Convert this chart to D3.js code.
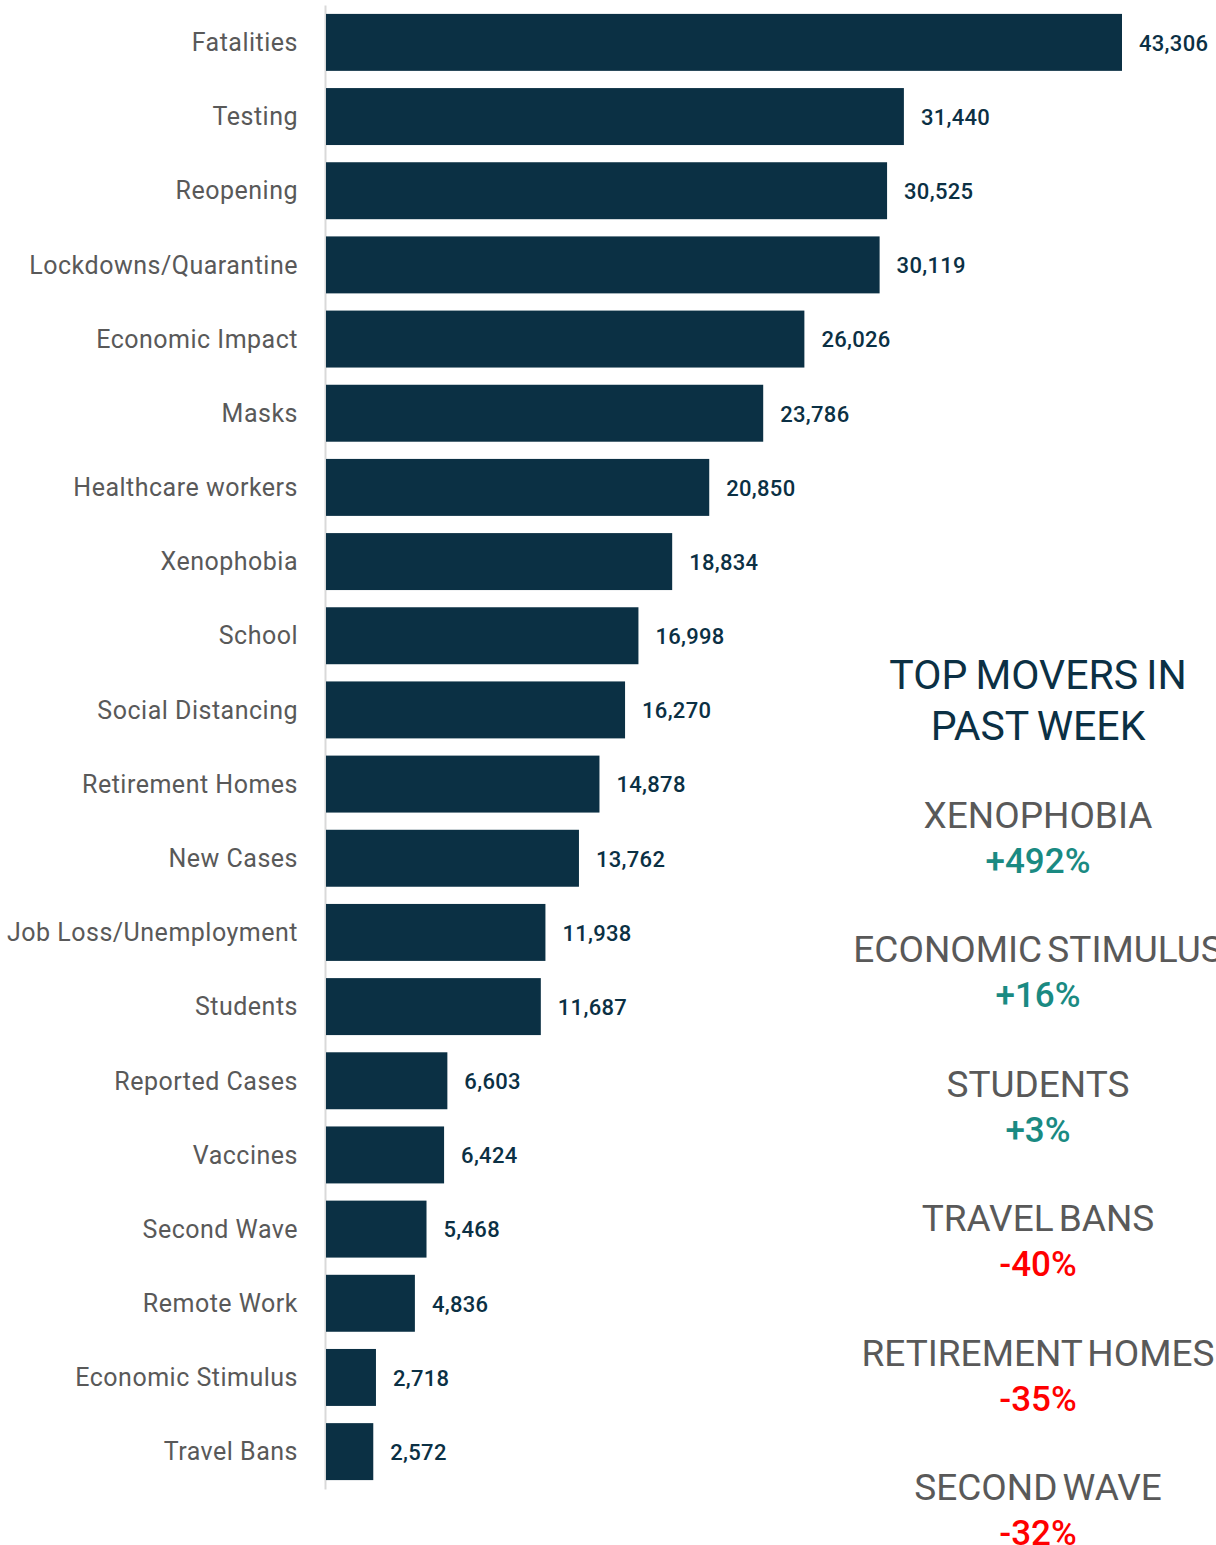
<!DOCTYPE html>
<meta charset="utf-8">
<style>
  body { margin: 0; background: #fff; }
  #chart text { font-family: Roboto, "DejaVu Sans Condensed", sans-serif; }
  .tick text { fill: #595959; font-size: 25px; letter-spacing: 0.5px; }
  .domain { stroke: #d9d9d9; stroke-width: 2; }
  .value { fill: #0b3044; font-size: 22px; font-weight: 500; letter-spacing: 0.3px; }
</style>
<body>
  <div id="chart"></div>
  <script src="https://d3js.org/d3.v7.min.js"></script>
  <script>
    // topics and mention counts
    const categories = ["Fatalities", "Testing", "Reopening", "Lockdowns/Quarantine", "Economic Impact",
      "Masks", "Healthcare workers", "Xenophobia", "School", "Social Distancing", "Retirement Homes",
      "New Cases", "Job Loss/Unemployment", "Students", "Reported Cases", "Vaccines", "Second Wave",
      "Remote Work", "Economic Stimulus", "Travel Bans"];
    const counts = [43306, 31440, 30525, 30119, 26026, 23786, 20850, 18834, 16998, 16270, 14878,
      13762, 11938, 11687, 6603, 6424, 5468, 4836, 2718, 2572];

    // top movers panel
    const titleLines = ["TOP MOVERS IN", "PAST WEEK"];
    const movers = ["XENOPHOBIA", "ECONOMIC STIMULUS", "STUDENTS", "TRAVEL BANS", "RETIREMENT HOMES", "SECOND WAVE"];
    const moverChange = ["+492%", "+16%", "+3%", "-40%", "-35%", "-32%"];

    const width = 1216, height = 1545;

    const svg = d3.select("#chart")
      .append("svg")
      .attr("width", width)
      .attr("height", height);

    const rows = categories.map((c, i) => ({ name: c, value: counts[i] }));

    const x = d3.scaleLinear().domain([0, 43306]).range([326, 1122]);
    const y = d3.scaleBand()
      .domain(categories)
      .range([5, 1489])
      .paddingInner(0.232)
      .paddingOuter(0.12);

    svg.append("g")
      .attr("transform", "translate(325,0)")
      .call(d3.axisLeft(y).tickSize(0).tickSizeOuter(0).tickPadding(27))
      .call(g => g.selectAll(".tick text").attr("dy", "0.35em"));

    svg.append("g")
      .selectAll("rect")
      .data(rows)
      .join("rect")
      .attr("x", x(0))
      .attr("y", d => y(d.name))
      .attr("width", d => x(d.value) - x(0))
      .attr("height", y.bandwidth())
      .attr("fill", "#0b3044");

    svg.append("g")
      .selectAll("text")
      .data(rows)
      .join("text")
      .attr("class", "value")
      .attr("x", d => x(d.value) + 17)
      .attr("y", d => y(d.name) + y.bandwidth() / 2)
      .attr("dy", "0.38em")
      .text(d => d3.format(",")(d.value));

    // right panel
    const cx = 1038;
    svg.append("g")
      .selectAll("text")
      .data(titleLines)
      .join("text")
      .attr("x", cx)
      .attr("y", (d, i) => 689 + i * 51)
      .attr("text-anchor", "middle")
      .attr("fill", "#0b3044")
      .style("font-size", "41px")
      .style("word-spacing", "-2px")
      .text(d => d);

    const my = d3.scaleLinear().domain([0, movers.length - 1]).range([828, 1500]);

    const mg = svg.append("g")
      .selectAll("g")
      .data(movers)
      .join("g");

    mg.append("text")
      .attr("x", cx)
      .attr("y", (d, i) => my(i))
      .attr("text-anchor", "middle")
      .attr("fill", "#595959")
      .style("font-size", "37px")
      .style("word-spacing", "-4px")
      .text(d => d);

    mg.append("text")
      .attr("x", cx)
      .attr("y", (d, i) => my(i) + 45)
      .attr("text-anchor", "middle")
      .attr("fill", (d, i) => moverChange[i][0] === "+" ? "#1a8a82" : "#ff0000")
      .style("font-size", "35px")
      .style("font-weight", 500)
      .text((d, i) => moverChange[i]);
  </script>
</body>
